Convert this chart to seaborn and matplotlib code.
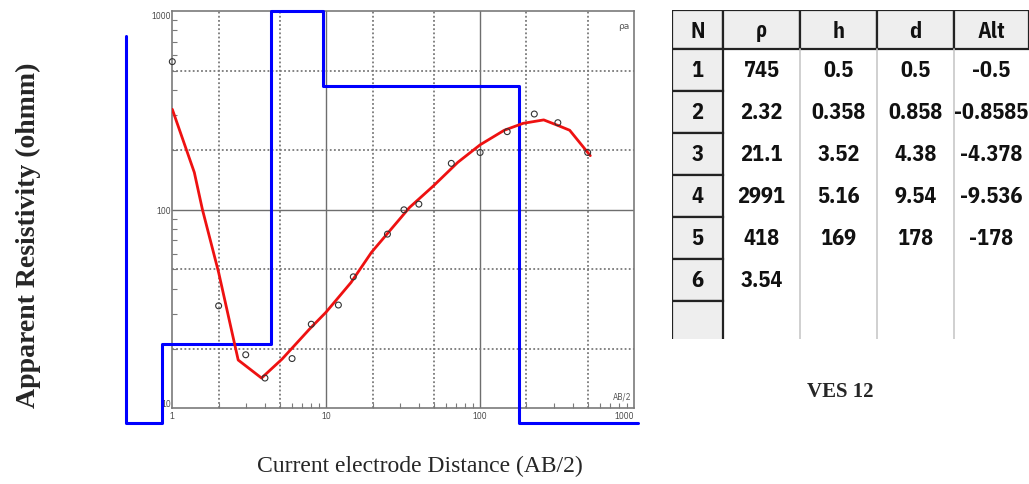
import numpy as np
import pandas as pd
import matplotlib
matplotlib.use("Agg")
import matplotlib.pyplot as plt
import seaborn as sns
from matplotlib.patches import Rectangle
from matplotlib.ticker import FixedLocator, FixedFormatter, LogLocator, NullFormatter

# ---------------- data ----------------
ab2_obs = [1, 2, 3, 4, 6, 8, 12, 15, 25, 32, 40, 65, 100, 150, 225, 320, 500]
rho_obs = [556, 32.8, 18.6, 14.2, 17.8, 26.5, 33.1, 45.9, 75.3, 99.8, 106.6, 171, 194, 247, 303, 274, 194]

ab2_fit = [1, 1.39, 1.57, 2.0, 2.68, 3.8, 5.17, 7.81, 9.95, 14.5, 19.7, 34.8, 49.9,
           71.6, 100, 143.5, 190.5, 259, 318, 382, 520]
rho_fit = [320, 154, 100, 48.3, 17.5, 14.2, 17.7, 25.1, 30.4, 43, 61, 102.6, 132,
           173, 212, 251, 272, 283, 266, 251, 187]

layer_n = [1, 2, 3, 4, 5, 6]
layer_rho = [745, 2.32, 21.1, 2991, 418, 3.54]
layer_h = [0.5, 0.358, 3.52, 5.16, 169]
layer_d = [0.5, 0.858, 4.38, 9.54, 178]
layer_alt = [-0.5, -0.8585, -4.378, -9.536, -178]

table_header = ["N", "ρ", "h", "d", "Alt"]
x_major = [1, 10, 100, 1000]
y_major = [10, 100, 1000]
x_grid_dotted = [2, 5, 20, 50, 200, 500]
y_grid_dotted = [20, 50, 200, 500]

NARROW = ["IBM Plex Sans Condensed", "Open Sans Condensed", "DejaVu Sans"]

# ---------------- figure ----------------
sns.set_style("white")
W, H = 1029, 485
fig = plt.figure(figsize=(W / 100, H / 100), dpi=100)

def fbox(x0, y0, x1, y1):
    return [x0 / W, 1 - y1 / H, (x1 - x0) / W, (y1 - y0) / H]

ax = fig.add_axes(fbox(172.3, 12, 634, 409.3))
ax.set_xscale("log")
ax.set_yscale("log")
ax.set_xlim(1, 1000)
ax.set_ylim(10, 1000)

grid_c = "#7a7a7a"
for v in x_major[1:-1]:
    ax.axvline(v, color="#6e6e6e", lw=1.0, zorder=1)
for v in y_major[1:-1]:
    ax.axhline(v, color="#6e6e6e", lw=1.0, zorder=1)
for v in x_grid_dotted:
    ax.axvline(v, color=grid_c, lw=1.3, ls=(0, (1.0, 1.3)), zorder=1)
for v in y_grid_dotted:
    ax.axhline(v, color=grid_c, lw=1.3, ls=(0, (1.0, 1.3)), zorder=1)

# layered model (blue step), clipped to the display window of the software
x_lo, x_hi = 0.5, 1060
y_lo, y_hi = 8.4, 1000
xs = [x_lo]
ys = [layer_rho[0]]
for i, d in enumerate(layer_d):
    xs += [d, d]
    ys += [layer_rho[i], layer_rho[i + 1]]
xs.append(x_hi)
ys.append(layer_rho[-1])
step = pd.DataFrame({"x": np.clip(xs, x_lo, x_hi), "y": np.clip(ys, y_lo, y_hi)})
sns.lineplot(data=step, x="x", y="y", sort=False, estimator=None, color="#0000ff",
             lw=2.2, ax=ax, zorder=3)
ax.lines[-1].set_clip_on(False)

fit = pd.DataFrame({"x": ab2_fit, "y": rho_fit})
sns.lineplot(data=fit, x="x", y="y", sort=False, estimator=None, color="#ee1111",
             lw=2.0, ax=ax, zorder=4)

obs = pd.DataFrame({"x": ab2_obs, "y": rho_obs})
sns.scatterplot(data=obs, x="x", y="y", ax=ax, s=18, facecolor="none",
                edgecolor="#333333", linewidth=0.8, zorder=5, clip_on=False)

ax.set_xlabel("")
ax.set_ylabel("")
for s in ax.spines.values():
    s.set_color("#7a7a7a")
    s.set_linewidth(1.2)
    s.set_visible(True)

ax.xaxis.set_major_locator(FixedLocator(x_major))
ax.xaxis.set_major_formatter(FixedFormatter([str(v) for v in x_major]))
ax.yaxis.set_major_locator(FixedLocator(y_major))
ax.yaxis.set_major_formatter(FixedFormatter([str(v) for v in y_major]))
ax.xaxis.set_minor_locator(LogLocator(base=10, subs=np.arange(2, 10)))
ax.yaxis.set_minor_locator(LogLocator(base=10, subs=np.arange(2, 10)))
ax.xaxis.set_minor_formatter(NullFormatter())
ax.yaxis.set_minor_formatter(NullFormatter())
ax.tick_params(which="major", length=0, labelsize=6.5, labelcolor="#444444", pad=2)
ax.tick_params(which="minor", direction="in", length=3.5, width=0.8, color="#7a7a7a",
               bottom=True, left=True, top=False, right=False)
ax.tick_params(axis="y", which="major", pad=1)
for lab in ax.get_xticklabels() + ax.get_yticklabels():
    lab.set_family(NARROW)
ylabs = ax.get_yticklabels()
ylabs[0].set_va("bottom")
ylabs[-1].set_va("top")
xlabs = ax.get_xticklabels()
xlabs[-1].set_ha("right")

ax.text(0.99, 0.975, "ρa", transform=ax.transAxes, ha="right", va="top",
        fontsize=6.5, color="#555555")
ax.text(0.995, 0.02, "AB/2", transform=ax.transAxes, ha="right", va="bottom",
        fontsize=6.5, color="#555555", family=NARROW)

# ---------------- labels ----------------
fig.text(28 / W, 1 - 235 / H, "Apparent Resistivity (ohmm)", rotation=90,
         ha="center", va="center", fontsize=20, fontweight="bold",
         family="Liberation Serif")
fig.text(420 / W, 1 - 466 / H, "Current electrode Distance (AB/2)",
         ha="center", va="center", fontsize=17, family="Liberation Serif")
fig.text(840 / W, 1 - 392 / H, "VES 12", ha="center", va="center", fontsize=15,
         fontweight="bold", family="Liberation Serif")

# ---------------- layer table ----------------
tax = fig.add_axes(fbox(672, 11, 1029, 340))
tax.set_xlim(0, 357)
tax.set_ylim(329, 0)
tax.axis("off")
col_edges = [0, 51, 128, 205, 282, 357]
row_h0 = 39
row_step = 42
cell_fc = "#eeeeee"
edge_c = "#222222"
tfont = dict(family=NARROW, fontweight="bold",
             fontsize=16, color="#111111", ha="center", va="center")

for j, name in enumerate(table_header):
    x0, x1 = col_edges[j], col_edges[j + 1]
    tax.add_patch(Rectangle((x0, 0), x1 - x0, row_h0, fc=cell_fc, ec=edge_c, lw=1.6))
    tax.text((x0 + x1) / 2, row_h0 / 2 + 1, name, **tfont)

for k in [2, 3, 4]:
    tax.plot([col_edges[k]] * 2, [row_h0, 329], color="#c8c8c8", lw=1.2)

n_rows = len(layer_n) + 1
for i in range(n_rows):
    y0 = row_h0 + i * row_step
    hgt = row_step if i < n_rows - 1 else 329 - y0 + 8
    tax.add_patch(Rectangle((0, y0), col_edges[1], hgt, fc=cell_fc, ec=edge_c, lw=1.6))

columns = [layer_n, layer_rho, layer_h, layer_d, layer_alt]
for j, col in enumerate(columns):
    xc = (col_edges[j] + col_edges[j + 1]) / 2
    for i, v in enumerate(col):
        yc = row_h0 + i * row_step + row_step / 2
        tax.text(xc, yc, f"{v:g}", **tfont)

fig.savefig("out.png", dpi=100)
